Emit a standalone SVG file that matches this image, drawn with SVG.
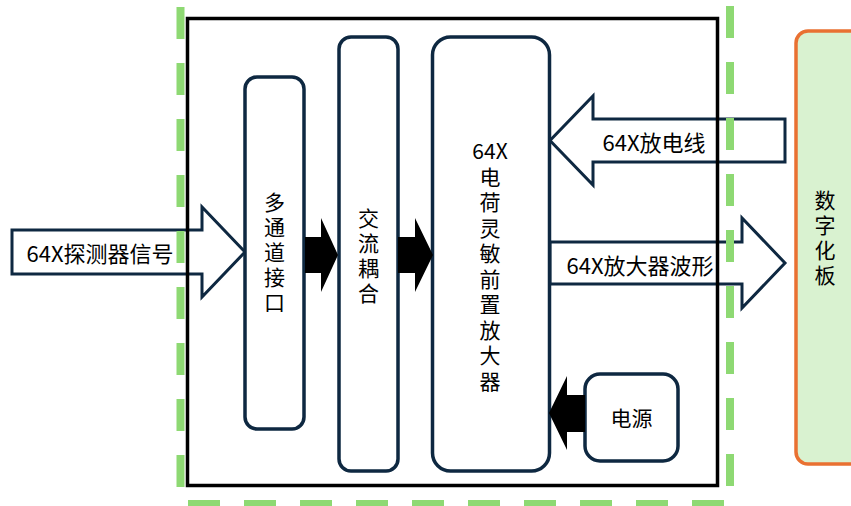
<svg xmlns="http://www.w3.org/2000/svg" width="851" height="506" viewBox="0 0 851 506">
<style>
.hollow{fill:#fff;stroke:#0e2841;stroke-width:3;stroke-linejoin:miter}
.box{fill:#fff;stroke:#0e2841;stroke-width:3.5}
.solid{fill:#000;stroke:none}
.dash{stroke:#8ed973;stroke-width:8;stroke-dasharray:32 24;fill:none}
.t{font-family:"Noto Sans CJK SC","Noto Sans",sans-serif;font-size:21px;fill:#000;text-anchor:middle;dominant-baseline:central}
.v{font-family:"Noto Sans CJK SC","Noto Sans",sans-serif;font-size:21px;fill:#000;writing-mode:vertical-rl;text-anchor:start;letter-spacing:4px}
.v2{letter-spacing:4.5px}
.lb{font-size:22px}
</style>
<rect width="851" height="506" fill="#fff"/>
<g id="connectors">
  <path id="in-arrow" class="hollow" d="M12,230 H202 V207 L245,252 L202,297 V274 H12 Z"/>
  <path id="discharge-arrow" class="hollow" d="M785,119 H593 V96 L550,140.5 L593,185 V162 H785 Z"/>
  <path id="wave-arrow" class="hollow" d="M550,242 H742 V218 L785,263 L742,308 V284 H550 Z"/>
</g>
<rect id="frame" x="187.5" y="18.5" width="530" height="467" fill="none" stroke="#000" stroke-width="3.5"/>
<g id="dashed-boundary">
  <line class="dash" x1="180.5" y1="7" x2="180.5" y2="506"/>
  <line class="dash" x1="730" y1="6" x2="730" y2="506"/>
  <line class="dash" x1="188" y1="504" x2="730" y2="504"/>
</g>
<g id="mux">
  <rect class="box" x="245" y="77" width="59" height="352" rx="12"/>
  <text class="v" x="274.5" y="191.5">多通道接口</text>
</g>
<g id="ac">
  <rect class="box" x="339" y="37" width="59" height="434" rx="12"/>
  <text class="v" x="368.5" y="207.5">交流耦合</text>
</g>
<g id="preamp">
  <rect class="box" x="432.5" y="37" width="117" height="434" rx="18"/>
  <text class="t" x="490" y="150">64X</text>
  <text class="v v2" x="490" y="166.5">电荷灵敏前置放大器</text>
</g>
<g id="power">
  <rect class="box" x="585" y="374" width="93" height="87" rx="15"/>
  <text class="t" x="631.5" y="417">电源</text>
</g>
<g id="digitizer">
  <rect x="796" y="31" width="70" height="433" rx="12" fill="#d9f2d0" stroke="#e97132" stroke-width="3.5"/>
  <text class="v" x="825" y="189.5">数字化板</text>
</g>
<g id="solid-arrows">
  <path class="solid" d="M305,237 H321 V218 L338,255 L321,292 V273 H305 Z"/>
  <path class="solid" d="M398,237 H415 V218 L433,255 L415,292 V273 H398 Z"/>
  <path class="solid" d="M585,395 H567 V376 L549,413 L567,450 V432 H585 Z"/>
</g>
<g id="labels">
  <text class="t lb" x="100" y="252">64X探测器信号</text>
  <text class="t lb" x="654" y="141">64X放电线</text>
  <text class="t lb" x="640" y="264">64X放大器波形</text>
</g>
</svg>
